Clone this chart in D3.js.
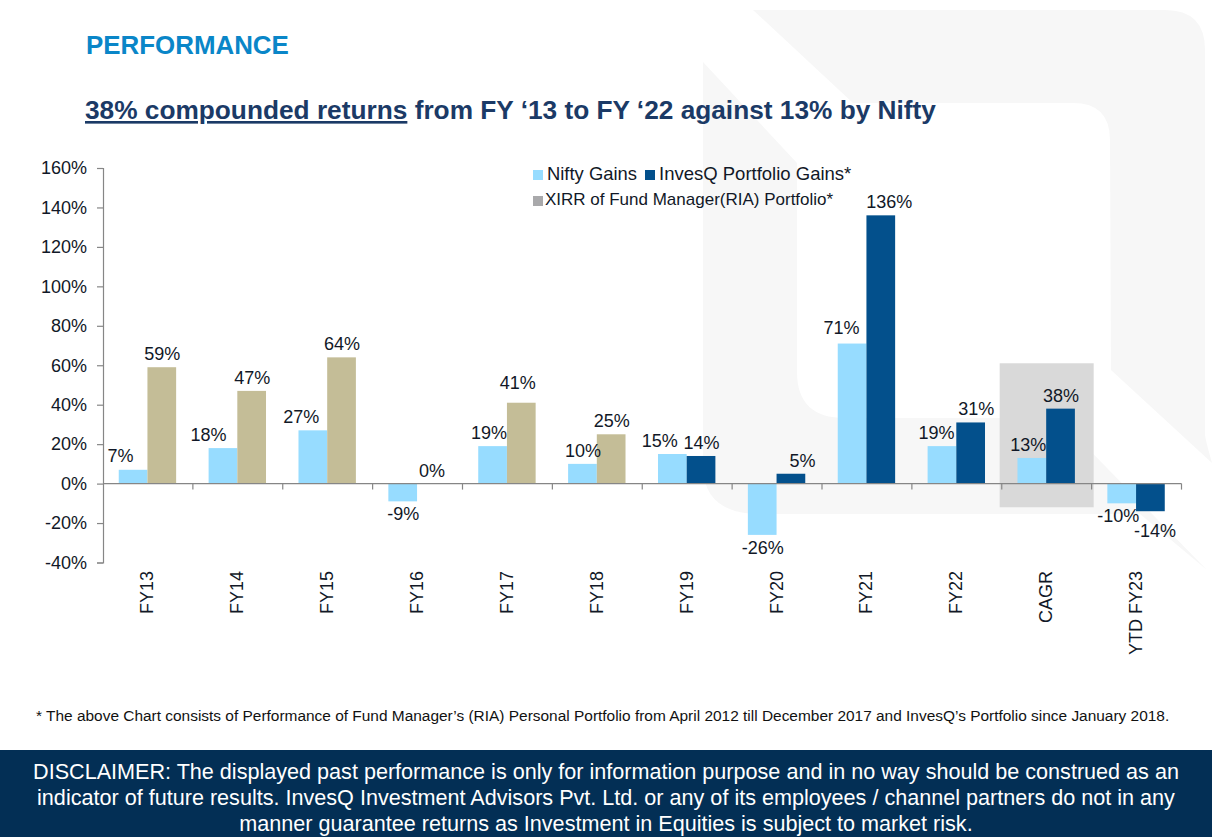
<!DOCTYPE html>
<html>
<head>
<meta charset="utf-8">
<script src="https://cdn.jsdelivr.net/npm/d3@7"></script>
<style>
  html, body { margin: 0; padding: 0; background: #fff; }
  svg { display: block; }
  text { font-family: "Liberation Sans", Arial, sans-serif; }
</style>
</head>
<body>
<svg id="chart" width="1212" height="837"></svg>
<script>
// chart values
var categories = ["FY13", "FY14", "FY15", "FY16", "FY17", "FY18", "FY19", "FY20", "FY21", "FY22", "CAGR", "YTD FY23"];
var niftyGains = [7, 18, 27, -9, 19, 10, 15, -26, 71, 19, 13, -10];
var invesqGains = [null, null, null, null, null, null, 14, 5, 136, 31, 38, -14];
var xirrGains = [59, 47, 64, 0, 41, 25, null, null, null, null, null, null];
var yTicks = [-40, -20, 0, 20, 40, 60, 80, 100, 120, 140, 160];

var disclaimerLines = [
  "DISCLAIMER: The displayed past performance is only for information purpose and in no way should be construed as an",
  "indicator of future results. InvesQ Investment Advisors Pvt. Ltd. or any of its employees / channel partners do not in any",
  "manner guarantee returns as Investment in Equities is subject to market risk."
];

var lightBlue = "#97dcff", darkBlue = "#03508c", tan = "#c4bd97", ink = "#111827";

var svg = d3.select("#chart");

// faint logo behind everything
svg.append("path")
  .attr("fill", "#f7f7f7")
  .attr("d", "M753,10 L1165,10 Q1205,10 1205,50 L1205,435 Q1206,442 1212,463 L1111,370 L1110,140 Q1110,103 1073,103 L853,103 Z" +
             "M703,62 L797,163 L797,372 Q797,418 845,418 L1058,418 L1207,570 L1140,514 L760,514 Q703,514 703,465 Z");

svg.append("text").attr("x", 86).attr("y", 54)
  .attr("font-size", 25.9).attr("font-weight", "bold").attr("fill", "#0a86c8")
  .text("PERFORMANCE");

var title = svg.append("text").attr("x", 85).attr("y", 119)
  .attr("font-size", 26.25).attr("font-weight", "bold").attr("fill", "#1b3a66");
title.append("tspan").attr("text-decoration", "underline").text("38% compounded returns");
title.append("tspan").text(" from FY \u201813 to FY \u201822 against 13% by Nifty");

var x = d3.scaleBand().domain(categories).range([103, 1181.5]);
var y = d3.scaleLinear().domain([-40, 160]).range([562.5, 168]);
var barW = 28.7;

// grey highlight behind CAGR
svg.append("rect")
  .attr("x", x("CAGR") + x.bandwidth() / 2 - 47)
  .attr("y", y(61))
  .attr("width", 94)
  .attr("height", y(-12) - y(61))
  .attr("fill", "#d9d9d9");

function drawBars(values, color, side) {
  var rows = categories.map(function (c, i) { return { cat: c, v: values[i] }; })
    .filter(function (d) { return d.v !== null; });
  svg.append("g").selectAll("rect").data(rows).join("rect")
    .attr("x", function (d) { return x(d.cat) + x.bandwidth() / 2 - 0.5 + (side < 0 ? -barW : 0); })
    .attr("width", barW)
    .attr("y", function (d) { return y(Math.max(d.v, 0)); })
    .attr("height", function (d) { return Math.abs(y(d.v) - y(0)); })
    .attr("fill", color);
}
drawBars(niftyGains, lightBlue, -1);
drawBars(xirrGains, tan, 1);
drawBars(invesqGains, darkBlue, 1);

// axes
var yAxis = d3.axisLeft(y).tickValues(yTicks).tickSize(6).tickPadding(10)
  .tickFormat(function (d) { return d + "%"; });
var yG = svg.append("g").attr("transform", "translate(103,0)").call(yAxis);
yG.selectAll("path, line").attr("stroke", "#868686").attr("stroke-width", 1.2);
yG.selectAll("text").attr("font-size", 18).attr("fill", ink);

var xG = svg.append("g").attr("transform", "translate(0," + y(0) + ")");
xG.append("line").attr("x1", 103).attr("x2", 1181.5).attr("stroke", "#868686").attr("stroke-width", 1.2);
xG.selectAll(".tk").data(categories).join("line").attr("class", "tk")
  .attr("x1", function (d) { return x(d) + x.bandwidth(); })
  .attr("x2", function (d) { return x(d) + x.bandwidth(); })
  .attr("y2", 6).attr("stroke", "#868686").attr("stroke-width", 1.2);

svg.append("g").selectAll("text").data(categories).join("text")
  .attr("transform", function (d) { return "translate(" + (x(d) + x.bandwidth() / 2 + 5.5) + ",571) rotate(-90)"; })
  .attr("text-anchor", "end")
  .attr("font-size", 18).attr("fill", ink)
  .text(function (d) { return d; });

// value labels, nudged the way the original has them
var niftyNudge = { FY13: -13, FY14: -15, FY15: -12, FY17: -4, FY19: -13, FY21: -11, FY22: -6, CAGR: -4, "YTD FY23": -4 };
var niftyLift = { FY13: -1, FY21: -3 };
var otherNudge = { FY17: -4, FY20: 11, FY21: 8, FY22: 5, "YTD FY23": 4 };
var otherLift = { FY17: -7, "YTD FY23": 7 };
function drawLabels(values, side, nudge, lift) {
  var rows = categories.map(function (c, i) { return { cat: c, v: values[i] }; })
    .filter(function (d) { return d.v !== null; });
  svg.append("g").selectAll("text").data(rows).join("text")
    .attr("x", function (d) { return x(d.cat) + x.bandwidth() / 2 + side * barW / 2 + (nudge[d.cat] || 0); })
    .attr("y", function (d) { return (d.v < 0 ? y(d.v) + 19 : y(d.v) - 7) + (lift[d.cat] || 0); })
    .attr("text-anchor", "middle")
    .attr("font-size", 18).attr("fill", ink)
    .text(function (d) { return d.v + "%"; });
}
drawLabels(niftyGains, -1, niftyNudge, niftyLift);
drawLabels(xirrGains, 1, otherNudge, otherLift);
drawLabels(invesqGains, 1, otherNudge, otherLift);

// legend
var legendRows = [
  { label: "Nifty Gains", color: lightBlue, bx: 533, tx: 547, by: 170, ty: 180, fs: 18.4 },
  { label: "InvesQ Portfolio Gains*", color: darkBlue, bx: 645, tx: 659, by: 170, ty: 180, fs: 18.5 },
  { label: "XIRR of Fund Manager(RIA) Portfolio*", color: "#a9a9ab", bx: 533, tx: 545, by: 196, ty: 205, fs: 17 }
];
var lg = svg.append("g").selectAll("g").data(legendRows).join("g");
lg.append("rect").attr("x", function (d) { return d.bx; }).attr("y", function (d) { return d.by; })
  .attr("width", 10).attr("height", 10).attr("fill", function (d) { return d.color; });
lg.append("text").attr("x", function (d) { return d.tx; }).attr("y", function (d) { return d.ty; })
  .attr("font-size", function (d) { return d.fs; }).attr("fill", ink)
  .text(function (d) { return d.label; });

svg.append("text").attr("x", 36).attr("y", 720.5)
  .attr("font-size", 15.45).attr("fill", "#111")
  .text("* The above Chart consists of Performance of Fund Manager\u2019s (RIA) Personal Portfolio from April 2012 till December 2017 and InvesQ\u2019s Portfolio since January 2018.");

// disclaimer band
svg.append("rect").attr("x", 0).attr("y", 750).attr("width", 1212).attr("height", 87).attr("fill", "#032f55");
svg.append("g").selectAll("text").data(disclaimerLines).join("text")
  .attr("x", 606)
  .attr("y", function (d, i) { return 779 + i * 26; })
  .attr("text-anchor", "middle")
  .attr("font-size", 21.6).attr("fill", "#fff")
  .text(function (d) { return d; });
</script>
</body>
</html>
